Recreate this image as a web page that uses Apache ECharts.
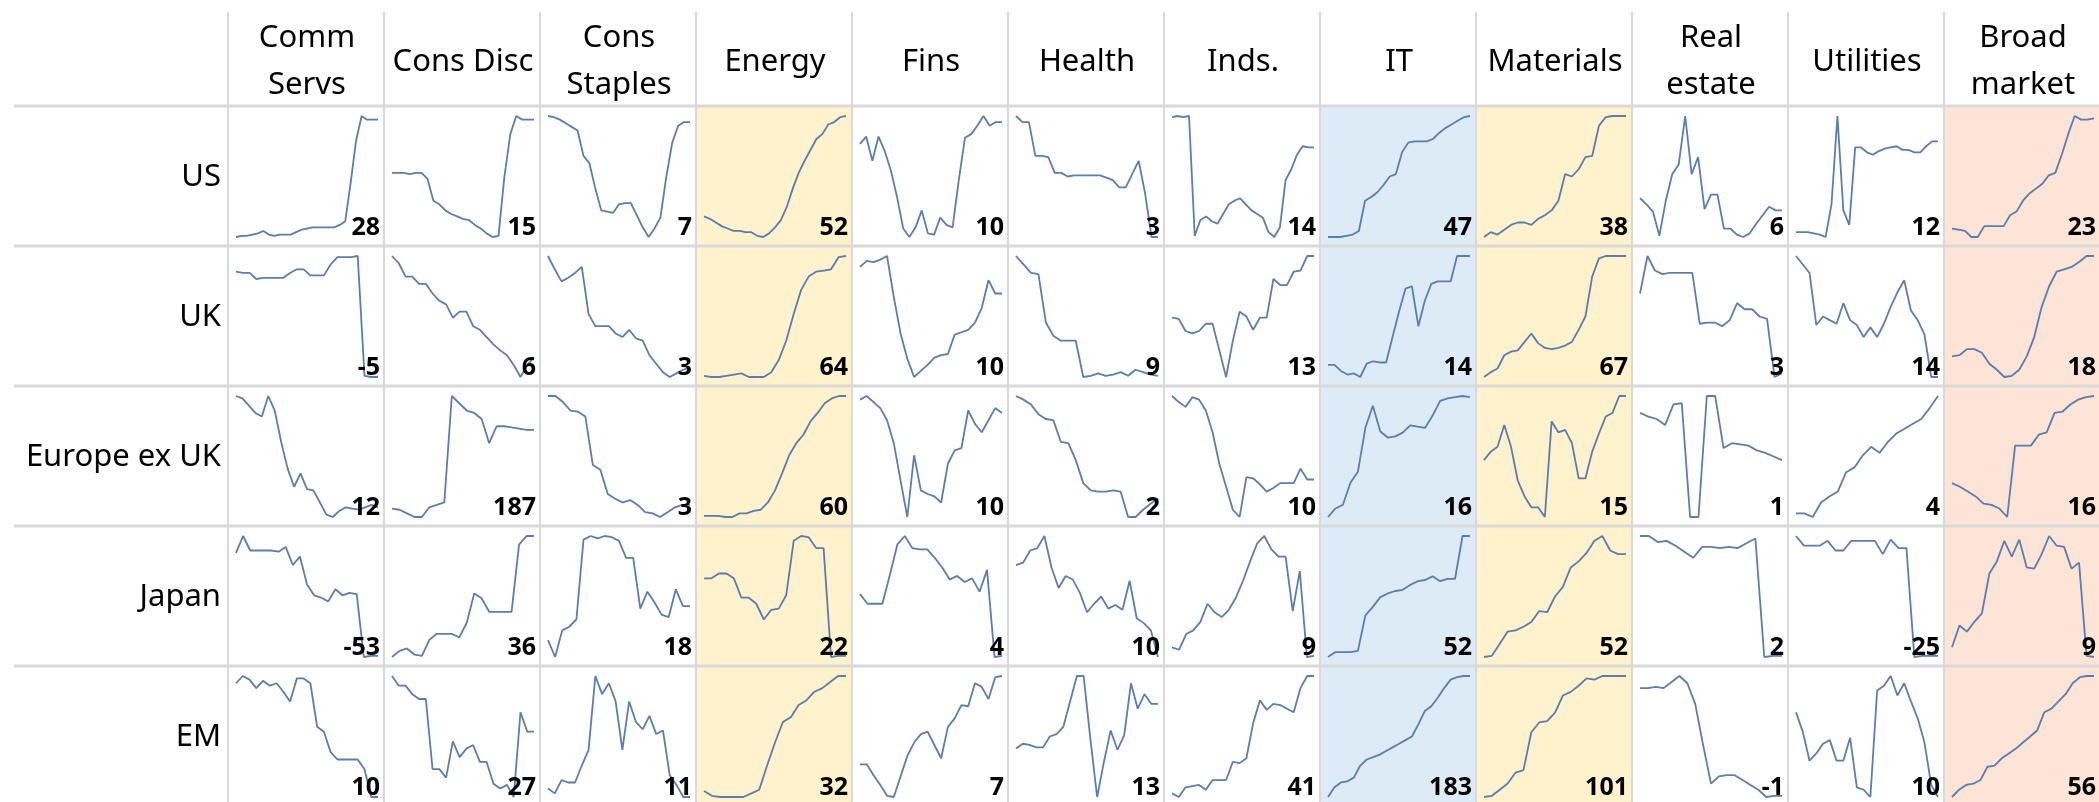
<!DOCTYPE html>
<html><head><meta charset="utf-8">
<script src="https://cdn.jsdelivr.net/npm/echarts@6/dist/echarts.min.js"></script>
<style>html,body{margin:0;padding:0;background:#fff;overflow:hidden}#c{width:2099px;height:802px}</style>
</head><body><div id="c"></div>
<script>
const sectors = ['Comm\nServs','Cons Disc','Cons\nStaples','Energy','Fins','Health','Inds.','IT','Materials','Real\nestate','Utilities','Broad\nmarket'];
const regions = ['US','UK','Europe ex UK','Japan','EM'];
const endValues = [
  [28,15,7,52,10,3,14,47,38,6,12,23],
  [-5,6,3,64,10,9,13,14,67,3,14,18],
  [12,187,3,60,10,2,10,16,15,1,4,16],
  [-53,36,18,22,4,10,9,52,52,2,-25,9],
  [10,27,11,32,7,13,41,183,101,-1,10,56]
];
const seriesUS = [
  [0,1,1,2,3,5,2,1,2,2,2,4,6,7,8,8,8,8,8,10,13,45,80,100,97,97,97],
  [53,53,53,52,53,53,48,30,27,22,19,17,15,14,10,7,3,0,1,50,85,100,97,97,97],
  [100,99,97,94,91,88,67,61,40,22,21,20,27,28,28,18,8,0,7,16,50,78,92,95,95],
  [17,15,12,9,7,5,5,4,4,1,0,3,8,14,25,40,53,63,72,81,85,93,95,99,100],
  [77,83,63,83,71,55,33,7,0,8,22,3,2,16,10,8,47,82,85,92,100,92,95,95],
  [100,95,95,67,67,66,53,53,50,51,51,51,51,51,49,47,41,41,52,63,36,0,0],
  [99,100,99,100,1,14,17,13,11,19,27,30,32,27,22,19,16,4,0,8,47,56,68,75,74,74],
  [0,0,0,1,2,5,30,33,37,43,50,52,70,78,79,79,79,81,86,90,93,96,99,100],
  [0,4,2,6,10,12,12,10,15,18,22,30,52,50,56,66,67,92,99,100,100,100],
  [32,27,21,1,30,52,60,100,52,66,23,35,35,7,7,2,0,3,11,18,25,22,22],
  [4,4,4,3,2,0,27,100,22,10,74,74,70,68,71,73,74,75,72,72,70,70,75,79,79],
  [7,6,5,0,0,9,9,9,9,18,21,30,36,40,44,51,53,68,85,100,97,97,98]
];
const seriesUK = [
  [87,86,86,81,82,82,82,82,86,89,89,84,84,84,93,99,99,99,100,1,0,0],
  [100,94,83,83,77,77,69,63,60,49,54,54,42,39,33,27,22,18,10,0,10,16],
  [100,89,79,82,86,91,52,42,42,42,36,33,39,32,30,18,11,4,0,3,6,8],
  [1,0,0,1,2,3,0,0,0,4,14,30,52,72,83,87,88,89,99,100],
  [91,96,95,97,100,66,36,15,0,5,10,16,18,19,35,37,39,45,57,80,69,69],
  [100,93,86,85,45,34,30,30,30,0,1,3,1,2,4,1,6,4,2,1],
  [49,48,38,36,38,44,44,22,0,30,54,50,39,49,49,81,76,76,87,88,100,100],
  [10,10,5,2,3,0,11,13,12,12,33,54,73,75,42,63,77,79,79,79,100,100,100],
  [0,4,7,18,21,22,29,36,28,24,23,24,26,29,39,50,83,98,100,100,100,100],
  [69,100,88,85,86,86,86,86,44,45,45,42,47,61,56,56,50,48,0,3],
  [100,93,86,43,50,47,44,61,47,43,33,41,33,44,58,70,80,55,47,35,0,0],
  [17,18,23,23,20,11,6,0,1,6,17,33,58,75,87,89,91,95,100,100]
];
const seriesEU = [
  [100,98,92,86,83,100,88,62,40,25,36,23,22,12,2,0,5,8,7,6,8,10,8],
  [7,6,3,0,0,8,10,12,100,94,88,86,81,61,75,75,74,73,72,72],
  [100,100,95,88,87,83,43,39,19,15,12,14,10,4,3,0,4,8,10,10],
  [1,1,1,0,0,3,3,5,6,12,22,36,51,61,68,79,86,94,98,100,100],
  [97,100,95,90,80,61,30,0,51,22,19,17,12,44,55,57,88,77,70,80,90,86],
  [100,97,93,85,81,80,62,61,47,28,22,21,21,22,21,0,0,6,11,15],
  [100,95,91,99,97,88,70,44,25,6,0,33,32,27,21,24,28,28,28,40,31,31],
  [0,7,10,28,37,73,91,70,65,66,69,75,74,73,83,95,97,98,99,98],
  [47,54,58,76,58,30,17,8,8,0,79,70,72,61,32,32,54,69,83,86,100,100],
  [86,83,81,76,93,94,0,0,100,100,57,61,60,59,55,53,50,47],
  [3,3,0,12,17,21,37,41,51,58,53,62,69,73,77,81,90,100],
  [28,25,21,17,11,10,7,0,59,59,59,68,70,86,87,93,97,99,100]
];
const seriesJP = [
  [86,100,88,88,88,88,87,91,76,83,60,51,49,46,56,51,53,52,0,1,1],
  [1,6,8,3,2,15,20,20,20,17,29,53,49,38,38,38,38,93,100,100],
  [14,0,22,25,31,97,100,98,100,99,96,82,82,40,54,45,35,33,56,42,42],
  [65,65,69,69,65,49,49,44,31,39,40,51,96,100,99,90,90,0,1,1],
  [52,44,44,44,68,93,100,90,89,89,82,74,64,67,62,65,54,72,0,1],
  [76,78,88,90,100,74,57,67,64,53,37,44,50,40,43,39,63,32,28,22,0],
  [8,6,19,22,29,44,37,33,39,49,63,79,94,100,89,83,83,38,71,0,1],
  [1,5,5,5,6,35,42,50,53,55,56,60,63,64,67,63,65,65,100,100],
  [0,1,11,21,22,25,29,38,37,50,58,74,79,86,96,100,88,85,85],
  [100,100,95,96,92,87,82,91,91,90,91,90,94,98,0,1,1],
  [100,92,92,92,96,88,88,96,96,96,96,85,97,90,90,0,1,1,1],
  [8,26,21,29,36,69,79,96,83,97,74,73,85,100,92,91,73,78,1,0]
];
const seriesEM = [
  [94,100,97,90,96,92,94,87,79,98,98,94,58,54,37,31,31,31,31,23,0,0],
  [100,92,92,85,81,81,23,23,16,46,33,40,43,29,29,11,7,10,0,70,54,54],
  [7,3,14,12,12,26,39,100,85,94,79,39,79,62,56,67,52,55,18,10,0,0],
  [5,1,0,0,0,0,3,6,26,45,62,66,76,80,87,90,95,100,100],
  [27,27,18,10,1,0,17,34,45,52,54,43,32,58,65,76,75,94,91,81,99,100],
  [40,44,43,41,41,50,52,58,79,100,100,48,0,29,55,39,51,94,73,85,77,77],
  [3,0,8,9,10,6,14,14,14,29,28,32,61,80,72,77,76,73,70,90,100,100],
  [0,8,12,13,16,26,31,33,35,38,41,44,47,50,60,71,75,82,90,97,99,100,100],
  [1,2,7,12,21,23,54,62,63,70,84,87,92,98,97,100,100,100,100],
  [90,90,91,90,95,100,94,77,43,11,17,18,18,14,10,6,0,1,1],
  [70,54,30,36,44,47,30,30,49,8,6,0,88,92,100,84,94,79,65,45,10,0],
  [0,6,10,11,14,25,26,32,36,40,45,50,55,70,73,79,85,94,99,100,100]
];
const rowSeries = [seriesUS, seriesUK, seriesEU, seriesJP, seriesEM];
const highlight = {3:'#fff2cc', 7:'#ddebf7', 8:'#fff2cc', 11:'#fce4d6'};

const W = 2099, H = 802;
const L0 = 228, CW = 156, T0 = 106, RH = 140;
const FONT = '"Noto Sans", "Open Sans", sans-serif';
const grid = [], xAxis = [], yAxis = [], series = [], graphic = [];

Object.keys(highlight).forEach(j => {
  graphic.push({type:'rect', z:0, silent:true,
    shape:{x:L0 + CW*j, y:T0, width:CW, height:H - T0},
    style:{fill:highlight[j]}});
});
for (let i = 0; i < regions.length; i++) {
  const y = T0 + RH*i;
  graphic.push({type:'line', z:1, silent:true, shape:{x1:14, y1:y, x2:W, y2:y},
    style:{stroke:'#d9d9d9', lineWidth:3}});
}
for (let j = 0; j <= sectors.length; j++) {
  const x = L0 + CW*j;
  graphic.push({type:'line', z:1, silent:true, shape:{x1:x, y1:12, x2:x, y2:H},
    style:{stroke:'#d9d9d9', lineWidth:2}});
}
sectors.forEach((s, j) => {
  graphic.push({type:'text', z:10, silent:true,
    style:{text:s, x:L0 + CW*j + CW/2 + 1, y:62, textAlign:'center', textVerticalAlign:'middle',
      font:'31px ' + FONT, lineHeight:47, fill:'#000'}});
});
regions.forEach((r, i) => {
  graphic.push({type:'text', z:10, silent:true,
    style:{text:r, x:221, y:T0 + RH*i + RH/2 + 1, textAlign:'right', textVerticalAlign:'middle',
      font:'31px ' + FONT, fill:'#000'}});
});

regions.forEach((r, i) => {
  rowSeries[i].forEach((d, j) => {
    const k = grid.length;
    grid.push({left:L0 + CW*j + 8, top:T0 + RH*i + 10, width:CW - 14, height:121});
    xAxis.push({type:'category', gridIndex:k, show:false, boundaryGap:false, data:d.map((_, n) => n)});
    yAxis.push({type:'value', gridIndex:k, show:false, scale:true, min:'dataMin', max:'dataMax'});
    series.push({type:'line', xAxisIndex:k, yAxisIndex:k, data:d, symbol:'none', showSymbol:false,
      silent:true, z:3, lineStyle:{color:'#5a7db3', width:1.8}});
    graphic.push({type:'text', z:10, silent:true,
      style:{text:String(endValues[i][j]), x:L0 + CW*(j + 1) - 4, y:T0 + RH*i + 122,
        textAlign:'right', textVerticalAlign:'middle',
        font:'bold 25px ' + FONT, fill:'#000'}});
  });
});

const chart = echarts.init(document.getElementById('c'), null, {renderer:'canvas', width:W, height:H});
chart.setOption({
  animation:false,
  backgroundColor:'#ffffff',
  grid, xAxis, yAxis, series,
  graphic:{elements:graphic}
});
</script>
</body></html>
